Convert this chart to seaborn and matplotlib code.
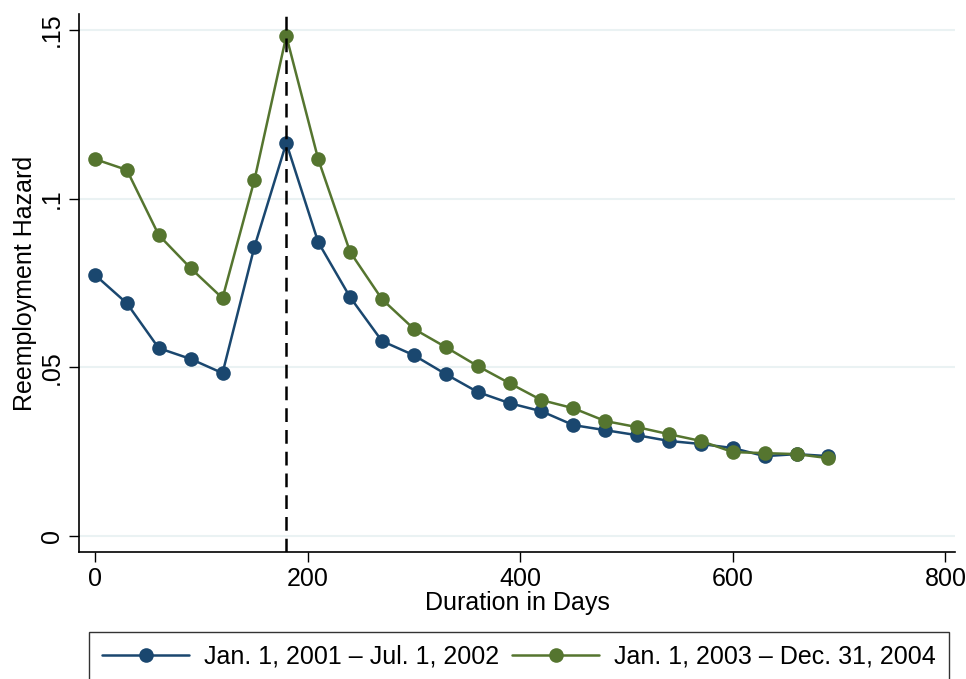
import numpy as np
import pandas as pd
import matplotlib
matplotlib.use("Agg")
import matplotlib.pyplot as plt
import seaborn as sns

days = [0, 30, 60, 90, 120, 150, 180, 210, 240, 270, 300, 330, 360, 390, 420,
        450, 480, 510, 540, 570, 600, 630, 660, 690]
hazard_2001 = [0.0774, 0.0690, 0.0557, 0.0525, 0.0483, 0.0857, 0.1165, 0.0871,
               0.0708, 0.0578, 0.0536, 0.0480, 0.0427, 0.0394, 0.0370, 0.0329,
               0.0314, 0.0299, 0.0282, 0.0273, 0.0261, 0.0237, 0.0243, 0.0237]
hazard_2003 = [0.1117, 0.1085, 0.0892, 0.0794, 0.0705, 0.1055, 0.1482, 0.1117,
               0.0842, 0.0702, 0.0614, 0.0560, 0.0504, 0.0453, 0.0403, 0.0379,
               0.0341, 0.0323, 0.0302, 0.0282, 0.0249, 0.0246, 0.0243, 0.0231]
series_labels = ["Jan. 1, 2001 \u2013 Jul. 1, 2002", "Jan. 1, 2003 \u2013 Dec. 31, 2004"]
x_ticks = [0, 200, 400, 600, 800]
y_ticks = [0, 0.05, 0.1, 0.15]
y_tick_labels = ["0", ".05", ".1", ".15"]
cutoff_day = 180

df = pd.DataFrame({
    "Duration": days + days,
    "Hazard": hazard_2001 + hazard_2003,
    "Period": [series_labels[0]] * len(days) + [series_labels[1]] * len(days),
})

sns.set_theme(style="white")
plt.rcParams["font.family"] = ["Liberation Sans", "DejaVu Sans"]
plt.rcParams["text.color"] = "black"
plt.rcParams["axes.labelcolor"] = "black"

FS = 18
fig = plt.figure(figsize=(9.66, 6.79), dpi=100)
ax = fig.add_axes([79 / 966, 1 - 552 / 679, (955 - 79) / 966, (552 - 14) / 679])

palette = {series_labels[0]: "#1a476f", series_labels[1]: "#55752f"}

for y in y_ticks:
    ax.axhline(y, color="#eaf2f3", lw=1.5, zorder=0)

sns.lineplot(data=df, x="Duration", y="Hazard", hue="Period", palette=palette,
             marker="o", markersize=10.5, markeredgewidth=0, linewidth=1.8,
             ax=ax, zorder=3)

ax.axvline(cutoff_day, color="black", lw=1.8, ls=(0, (5.5, 3.2)), zorder=4)

ax.set_xlim(-15, 809)
ax.set_ylim(-0.0047, 0.1547)
ax.set_xticks(x_ticks)
ax.set_yticks(y_ticks)
ax.set_yticklabels(y_tick_labels, rotation=90, va="center")
ax.tick_params(axis="both", direction="out", length=7, width=1, colors="black",
               labelsize=FS, bottom=True, left=True)
ax.tick_params(axis="x", pad=4)
ax.tick_params(axis="y", pad=4)

for s in ["top", "right"]:
    ax.spines[s].set_visible(False)
for s in ["left", "bottom"]:
    ax.spines[s].set_color("black")
    ax.spines[s].set_linewidth(1.2)

ax.set_xlabel("Duration in Days", fontsize=FS, labelpad=0, color="black")
ax.set_ylabel("Reemployment Hazard", fontsize=FS, labelpad=2, color="black")

handles, labels = ax.get_legend_handles_labels()
ax.get_legend().remove()
leg = fig.legend(handles, labels, loc="upper center",
                 bbox_to_anchor=(519 / 966, 1 - 632 / 679), ncol=2,
                 fontsize=FS, frameon=True, fancybox=False, handlelength=3.5,
                 columnspacing=0.5, borderpad=0.5, borderaxespad=0,
                 handletextpad=0.6, labelcolor="black")
leg.get_frame().set_edgecolor("black")
leg.get_frame().set_linewidth(1.0)

fig.savefig("out.png", dpi=100, facecolor="white")
